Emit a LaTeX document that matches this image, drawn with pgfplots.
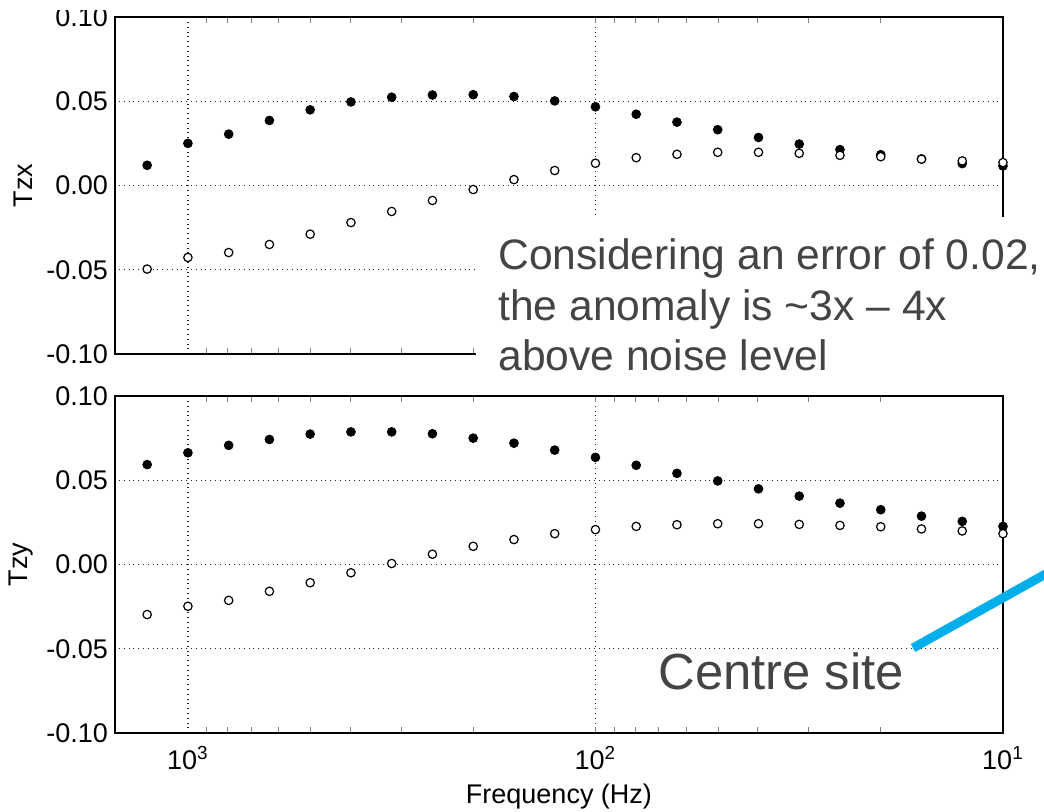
\documentclass[border=0pt]{standalone}
\usepackage{fontspec}
\setmainfont{Liberation Sans}
\usepackage{pgfplots}
\pgfplotsset{compat=1.18}
\usepackage{pgfplotstable}

\definecolor{annot}{RGB}{68,68,68}
\definecolor{linkblue}{RGB}{0,174,236}

% frequency, Tzx real/imag (filled/open), Tzy real/imag
\pgfplotstableread{
f      tzxr    tzxi    tzyr    tzyi
1258.9 0.0120 -0.0496  0.0593 -0.0297
1000   0.0250 -0.0427  0.0663 -0.0248
794.33 0.0305 -0.0398  0.0707 -0.0213
630.96 0.0386 -0.0350  0.0742 -0.0159
501.19 0.0449 -0.0289  0.0774 -0.0108
398.11 0.0496 -0.0220  0.0787 -0.0049
316.23 0.0524 -0.0154  0.0787  0.0006
251.19 0.0537 -0.0089  0.0776  0.0061
199.53 0.0539 -0.0024  0.0750  0.0108
158.49 0.0528  0.0035  0.0720  0.0148
125.89 0.0502  0.0089  0.0679  0.0183
100    0.0467  0.0132  0.0636  0.0207
79.433 0.0423  0.0165  0.0589  0.0226
63.096 0.0376  0.0185  0.0541  0.0236
50.119 0.0331  0.0197  0.0496  0.0242
39.811 0.0285  0.0197  0.0449  0.0242
31.623 0.0246  0.0191  0.0406  0.0238
25.119 0.0213  0.0179  0.0364  0.0232
19.953 0.0183  0.0171  0.0325  0.0224
15.849 0.0158  0.0156  0.0287  0.0211
12.589 0.0130  0.0146  0.0256  0.0199
10     0.0116  0.0136  0.0226  0.0183
}\datatable

\pgfplotsset{
  panel/.style={
    anchor=south west,
    scale only axis, width=444pt, height=168.5pt,
    x dir=reverse, xmin=10, xmax=1510,
    ymin=-0.1, ymax=0.1,
    ytick={-0.1,-0.05,0,0.05,0.1},
    yticklabels={-0.10,-0.05,0.00,0.05,0.10},
    xtick={10,100,1000},
    grid=major,
    grid style={dotted, line width=0.6pt, black!85},
    major tick length=0pt,
    axis line style={line width=1.3pt},
    tick label style={font=\fontsize{13.5}{16}\selectfont},
    xticklabel style={yshift=-3pt},
    label style={font=\fontsize{13.5}{16}\selectfont},
    clip=false,
  },
  filled/.style={only marks, mark=*, mark size=2.2pt, black},
  hollow/.style={only marks, mark=*, mark size=2.1pt,
    mark options={fill=white, draw=black, line width=0.6pt}},
}

\begin{document}
\begin{tikzpicture}
\begin{semilogxaxis}[panel, at={(57.5pt,-177pt)}, xticklabels={}, ylabel={Tzx}]
\addplot[filled] table[x=f, y=tzxr] {\datatable};
\addplot[hollow] table[x=f, y=tzxi] {\datatable};
\end{semilogxaxis}

\begin{semilogxaxis}[panel, at={(57.5pt,-366.5pt)}, ylabel={Tzy},
  xticklabels={10\textsuperscript{1},10\textsuperscript{2},10\textsuperscript{3}},
  xlabel={Frequency (Hz)}]
\addplot[filled] table[x=f, y=tzyr] {\datatable};
\addplot[hollow] table[x=f, y=tzyi] {\datatable};
\end{semilogxaxis}

\begin{scope}[x=0.5pt, y=-0.5pt]
  \fill[white] (0,-5) rectangle (1050,10);
  \fill[white] (476,217) rectangle (1050,395.3);
  \begin{scope}[every node/.style={inner sep=0pt, anchor=base west, text=annot,
      font=\fontsize{21.3}{25.5}\selectfont}]
    \node at (498,270) {Considering an error of 0.02,};
    \node at (498,321) {the anomaly is \textasciitilde3x – 4x};
    \node at (498,371) {above noise level};
  \end{scope}
  \node[inner sep=0pt, anchor=base west, text=annot,
    font=\fontsize{25.4}{30}\selectfont] at (658,689) {Centre site};
  \draw[linkblue, line width=4.5pt] (913,648) -- (1060,566);
\end{scope}

\pgfresetboundingbox
\path[use as bounding box] (0pt,0pt) rectangle (522pt,-406pt);
\end{tikzpicture}
\end{document}
